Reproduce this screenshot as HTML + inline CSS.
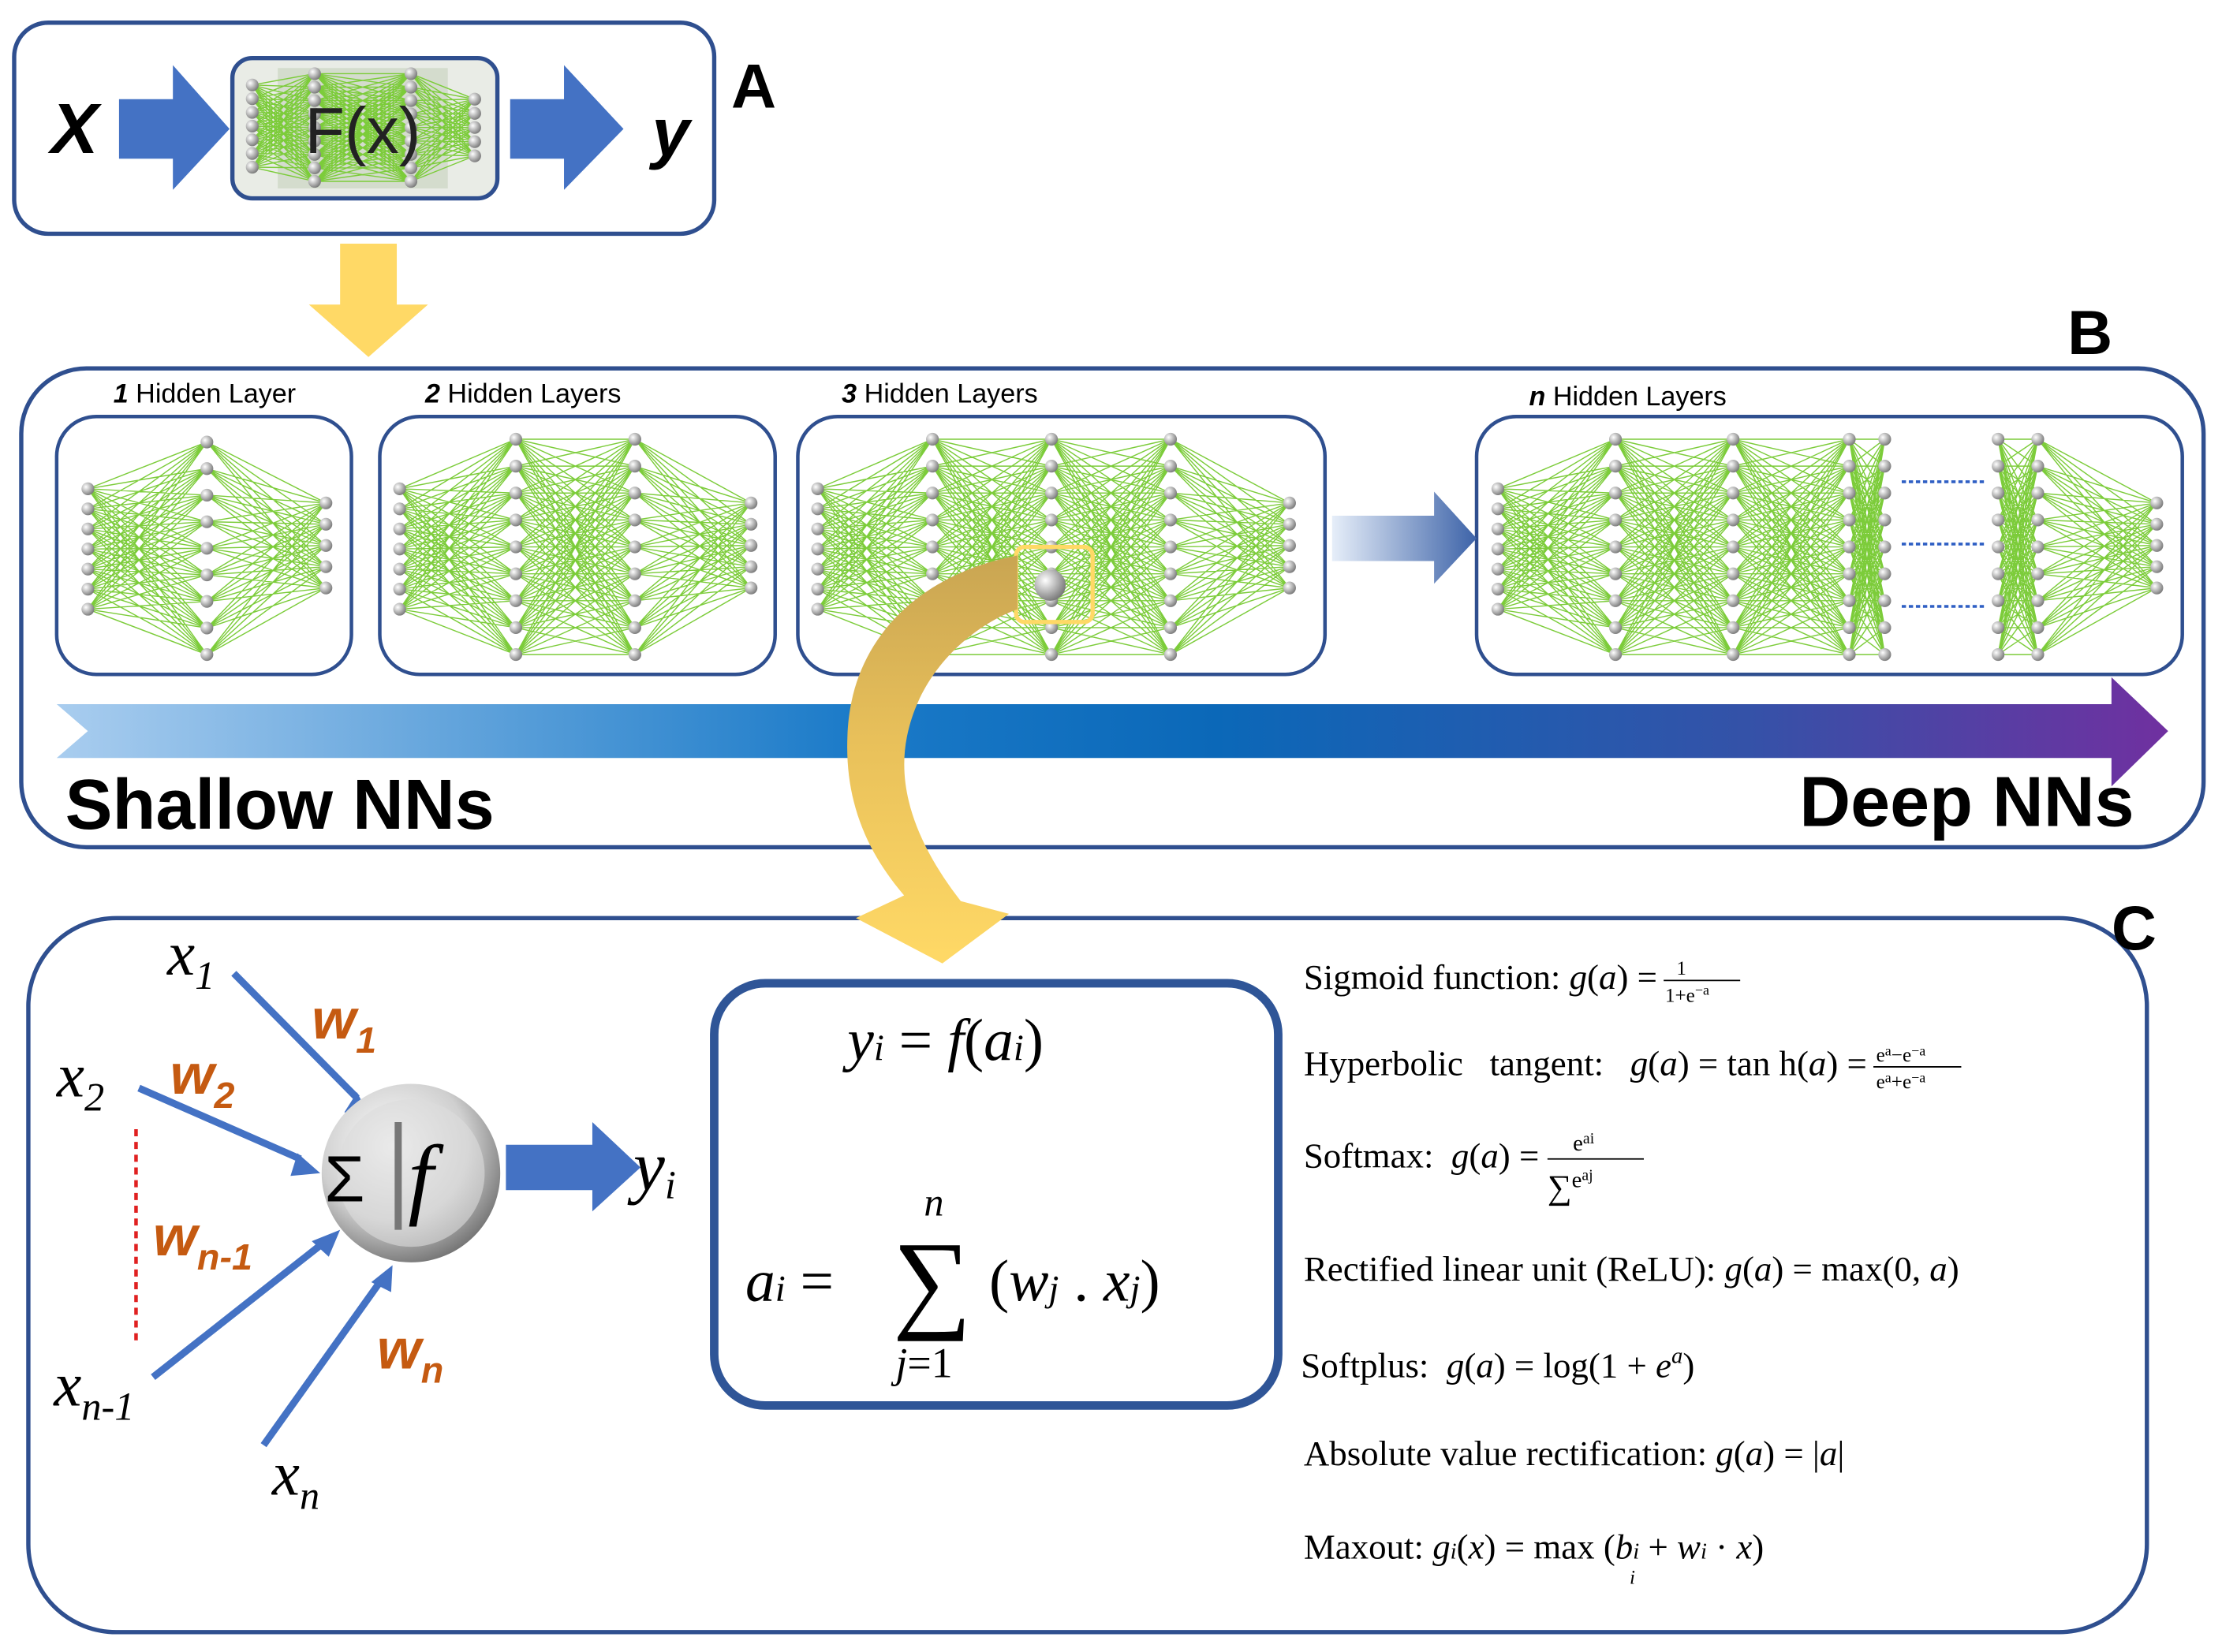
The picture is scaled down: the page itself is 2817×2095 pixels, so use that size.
<!DOCTYPE html>
<html><head><meta charset="utf-8"><style>
html,body{margin:0;padding:0;background:#fff;}
svg{display:block;}
.serif{font-family:"Liberation Serif",serif;}
.sans{font-family:"Liberation Sans",sans-serif;}
</style></head><body>
<svg id="s" width="2817" height="2095" viewBox="0 0 1568 1166" preserveAspectRatio="none" xmlns="http://www.w3.org/2000/svg">
<defs>
<linearGradient id="bar" x1="0" x2="1" y1="0" y2="0">
<stop offset="0" stop-color="#a9cdef"/><stop offset="0.38" stop-color="#1a7ac8"/><stop offset="0.55" stop-color="#0b68b8"/><stop offset="0.8" stop-color="#3452a8"/><stop offset="1" stop-color="#7030a0"/></linearGradient>
<linearGradient id="mid" x1="0" x2="1"><stop offset="0" stop-color="#e6eef9"/><stop offset="1" stop-color="#3d63a8"/></linearGradient>
<radialGradient id="ball" cx="0.4" cy="0.35" r="0.7"><stop offset="0" stop-color="#ffffff"/><stop offset="0.6" stop-color="#cfcfcf"/><stop offset="1" stop-color="#6e6e6e"/></radialGradient>
<radialGradient id="node" cx="0.35" cy="0.35" r="0.7"><stop offset="0" stop-color="#fff"/><stop offset="1" stop-color="#777"/></radialGradient>
<linearGradient id="curve" x1="0" y1="0" x2="0" y2="1"><stop offset="0" stop-color="#c9a552"/><stop offset="0.45" stop-color="#e8c05a"/><stop offset="1" stop-color="#ffd966"/></linearGradient>
</defs>

<!-- A -->
<rect x="10" y="16" width="494" height="149" rx="24" fill="#fff" stroke="#2f4f8f" stroke-width="3"/>
<text x="36" y="108" class="sans" font-size="50" font-weight="bold" font-style="italic">X</text>
<polygon points="84,70 122,70 122,46 162,91 122,134 122,112 84,112" fill="#4472c4"/>
<rect x="164" y="41" width="187" height="99" rx="14" fill="#e9ece6" stroke="#2f4f8f" stroke-width="3"/>
<rect x="196" y="48" width="120" height="85" fill="#d4dccd"/>
<g id="fxnet"></g>
<text x="256" y="108" class="sans" font-size="46" text-anchor="middle" fill="#222">F(x)</text>
<polygon points="360,70 398,70 398,46 440,91 398,134 398,112 360,112" fill="#4472c4"/>
<text x="460" y="110" class="sans" font-size="48" font-weight="bold" font-style="italic">y</text>
<text x="516" y="76" class="sans" font-size="44" font-weight="bold">A</text>

<!-- yellow arrow -->
<polygon points="240,172 280,172 280,215 302,215 260,252 218,215 240,215" fill="#ffd966"/>

<!-- B -->
<rect x="15" y="260" width="1540" height="338" rx="46" fill="#fff" stroke="#2f4f8f" stroke-width="3"/>
<text x="1459" y="250" class="sans" font-size="44" font-weight="bold">B</text>
<text x="80" y="284" class="sans" font-size="19"><tspan font-weight="bold" font-style="italic">1</tspan> Hidden Layer</text>
<text x="300" y="284" class="sans" font-size="19"><tspan font-weight="bold" font-style="italic">2</tspan> Hidden Layers</text>
<text x="594" y="284" class="sans" font-size="19"><tspan font-weight="bold" font-style="italic">3</tspan> Hidden Layers</text>
<text x="1079" y="286" class="sans" font-size="19"><tspan font-weight="bold" font-style="italic">n</tspan> Hidden Layers</text>
<rect x="40" y="294" width="208" height="182" rx="28" fill="#fff" stroke="#2f4f8f" stroke-width="2.5"/>
<rect x="268" y="294" width="279" height="182" rx="28" fill="#fff" stroke="#2f4f8f" stroke-width="2.5"/>
<rect x="563" y="294" width="372" height="182" rx="28" fill="#fff" stroke="#2f4f8f" stroke-width="2.5"/>
<rect x="1042" y="294" width="498" height="182" rx="28" fill="#fff" stroke="#2f4f8f" stroke-width="2.5"/>
<g id="nets"></g>
<line x1="1342" y1="340" x2="1402" y2="340" stroke="#2f5fc4" stroke-width="2" stroke-dasharray="3,2"/>
<line x1="1342" y1="384" x2="1402" y2="384" stroke="#2f5fc4" stroke-width="2" stroke-dasharray="3,2"/>
<line x1="1342" y1="428" x2="1402" y2="428" stroke="#2f5fc4" stroke-width="2" stroke-dasharray="3,2"/>
<polygon points="940,364 1012,364 1012,347 1042,380 1012,412 1012,396 940,396" fill="url(#mid)"/>
<rect x="717" y="386" width="54" height="53" rx="6" fill="none" stroke="#ffd966" stroke-width="3"/>
<circle cx="741" cy="413" r="11" fill="url(#node)"/>

<polygon points="40,497 1490,497 1490,478 1530,516 1490,555 1490,535 40,535 62,516" fill="url(#bar)"/>
<text x="46" y="585" class="sans" font-size="50" font-weight="bold">Shallow NNs</text>
<text x="1506" y="583" class="sans" font-size="50" font-weight="bold" text-anchor="end">Deep NNs</text>

<!-- C -->
<rect x="20" y="648" width="1495" height="504" rx="62" fill="#fff" stroke="#2f4f8f" stroke-width="3"/>
<text x="1490" y="670" class="sans" font-size="44" font-weight="bold">C</text>

<!-- curved arrow -->
<path d="M718,392 C650,405 600,450 598,520 C596,570 615,605 638,632 L604,648 L665,680 L712,645 L678,636 C650,600 632,560 640,520 C650,470 690,440 718,430 Z" fill="url(#curve)"/>

<!-- neuron -->
<g stroke="#4472c4" stroke-width="5" fill="#4472c4">
<line x1="165" y1="687" x2="252" y2="775"/>
<line x1="98" y1="768" x2="212" y2="818"/>
<line x1="108" y1="972" x2="226" y2="879"/>
<line x1="186" y1="1020" x2="268" y2="905"/>
</g>
<polygon points="262,790 243,785 252,771" fill="#4472c4"/>
<polygon points="226,828 205,830 210,814" fill="#4472c4"/>
<polygon points="240,868 232,887 220,876" fill="#4472c4"/>
<polygon points="277,893 276,912 262,905" fill="#4472c4"/>
<line x1="96" y1="797" x2="96" y2="950" stroke="#e02020" stroke-width="2.5" stroke-dasharray="5,4"/>
<circle cx="290" cy="828" r="63" fill="url(#ball)"/>
<circle cx="290" cy="828" r="52" fill="#dcdcdc" opacity="0.6"/>
<line x1="281" y1="792" x2="281" y2="868" stroke="#777" stroke-width="5"/>
<text x="229" y="848" class="sans" font-size="46">Σ</text>
<text x="288" y="852" class="serif" font-size="64" font-style="italic">f</text>
<polygon points="357,808 418,808 418,792 452,824 418,855 418,840 357,840" fill="#4472c4"/>
<text x="447" y="840" class="serif" font-size="50" font-style="italic">y<tspan font-size="28" dy="6">i</tspan></text>
<g class="serif" font-style="italic" font-size="44">
<text x="118" y="688">x<tspan font-size="28" dy="10">1</tspan></text>
<text x="40" y="774">x<tspan font-size="28" dy="10">2</tspan></text>
<text x="38" y="992">x<tspan font-size="28" dy="10">n-1</tspan></text>
<text x="192" y="1055">x<tspan font-size="28" dy="10">n</tspan></text>
</g>
<g class="sans" font-style="italic" font-weight="bold" fill="#c55a11" font-size="40">
<text x="220" y="733">w<tspan font-size="26" dy="10">1</tspan></text>
<text x="120" y="772">w<tspan font-size="26" dy="10">2</tspan></text>
<text x="108" y="886">w<tspan font-size="26" dy="10">n-1</tspan></text>
<text x="266" y="966">w<tspan font-size="26" dy="10">n</tspan></text>
</g>

<!-- formula box -->
<rect x="504" y="694" width="398" height="298" rx="36" fill="#fff" stroke="#2f5597" stroke-width="6"/>
<g class="serif" font-size="42">
<text x="598" y="748"><tspan font-style="italic">y</tspan><tspan font-style="italic" font-size="26">i</tspan> = <tspan font-style="italic">f</tspan>(<tspan font-style="italic">a</tspan><tspan font-style="italic" font-size="26">i</tspan>)</text>
<text x="652" y="858" font-size="28" font-style="italic">n</text>
<text x="526" y="918"><tspan font-style="italic">a</tspan><tspan font-style="italic" font-size="26">i</tspan> =</text>
<text x="630" y="930" font-size="78">∑</text>
<text x="698" y="918">(<tspan font-style="italic">w</tspan><tspan font-style="italic" font-size="26">j</tspan> . <tspan font-style="italic">x</tspan><tspan font-style="italic" font-size="26">j</tspan>)</text>
<text x="632" y="972" font-size="30"><tspan font-style="italic">j</tspan>=1</text>
</g>

<!-- formulas -->
<g class="serif" font-size="25">
<text x="920" y="698">Sigmoid function: <tspan font-style="italic">g</tspan>(<tspan font-style="italic">a</tspan>) = </text>
<text x="1183" y="688" font-size="14">1</text><line x1="1174" y1="692" x2="1228" y2="692" stroke="#000" stroke-width="1"/><text x="1175" y="707" font-size="14">1+e<tspan dy="-5" font-size="10">−a</tspan></text>
<text x="920" y="759">Hyperbolic &#160; tangent: &#160; <tspan font-style="italic">g</tspan>(<tspan font-style="italic">a</tspan>) = tan h(<tspan font-style="italic">a</tspan>) = </text>
<text x="1324" y="749" font-size="14">e<tspan font-size="10" dy="-4">a</tspan><tspan dy="4">−e</tspan><tspan font-size="10" dy="-4">−a</tspan></text><line x1="1322" y1="753" x2="1384" y2="753" stroke="#000" stroke-width="1"/><text x="1324" y="768" font-size="14">e<tspan font-size="10" dy="-4">a</tspan><tspan dy="4">+e</tspan><tspan font-size="10" dy="-4">−a</tspan></text>
<text x="920" y="824">Softmax: &#160;<tspan font-style="italic">g</tspan>(<tspan font-style="italic">a</tspan>) = </text>
<text x="1110" y="812" font-size="16">e<tspan font-size="11" dy="-5">ai</tspan></text><line x1="1092" y1="818" x2="1160" y2="818" stroke="#000" stroke-width="1"/><text x="1092" y="846" font-size="24">∑<tspan font-size="16" dy="-8">e</tspan><tspan font-size="11" dy="-5">aj</tspan></text>
<text x="920" y="904">Rectified linear unit (ReLU): <tspan font-style="italic">g</tspan>(<tspan font-style="italic">a</tspan>) = max(0, <tspan font-style="italic">a</tspan>)</text>
<text x="918" y="972">Softplus: &#160;<tspan font-style="italic">g</tspan>(<tspan font-style="italic">a</tspan>) = log(1 + <tspan font-style="italic">e</tspan><tspan font-style="italic" font-size="16" dy="-10">a</tspan><tspan dy="10">)</tspan></text>
<text x="920" y="1034">Absolute value rectification: <tspan font-style="italic">g</tspan>(<tspan font-style="italic">a</tspan>) = |<tspan font-style="italic">a</tspan>|</text>
<text x="920" y="1100">Maxout: <tspan font-style="italic">g</tspan><tspan font-size="16" font-style="italic">i</tspan>(<tspan font-style="italic">x</tspan>) = max (<tspan font-style="italic">b</tspan><tspan font-size="16" font-style="italic">i</tspan> + <tspan font-style="italic">w</tspan><tspan font-size="16" font-style="italic">i</tspan> · <tspan font-style="italic">x</tspan>)</text>
<text x="1150" y="1118" font-size="14" font-style="italic">i</text>
</g>
</svg>
<script>
(function(){
var NS="http://www.w3.org/2000/svg";
function net(g,cols,y0,y1){
  var layers=cols.map(function(c){var n=c[1],pts=[];var top=c[2]!==undefined?c[2]:y0,bot=c[3]!==undefined?c[3]:y1;for(var i=0;i<n;i++){pts.push([c[0],top+(bot-top)*i/(n-1)]);}return pts;});
  var d="";
  for(var l=0;l<layers.length-1;l++){layers[l].forEach(function(a){layers[l+1].forEach(function(b){d+="M"+a[0]+","+a[1]+"L"+b[0]+","+b[1];});});}
  var p=document.createElementNS(NS,"path");p.setAttribute("d",d);p.setAttribute("stroke","#7ccc3a");p.setAttribute("stroke-width","0.8");p.setAttribute("fill","none");g.appendChild(p);
  layers.forEach(function(L){L.forEach(function(q){var c=document.createElementNS(NS,"circle");c.setAttribute("cx",q[0]);c.setAttribute("cy",q[1]);c.setAttribute("r","4.5");c.setAttribute("fill","url(#node)");g.appendChild(c);});});
}
var g=document.getElementById("nets");
net(g,[[62,7,345,430],[146,9,312,462],[230,5,355,415]]);
net(g,[[282,7,345,430],[364,9,310,462],[448,9,310,462],[530,5,355,415]]);
net(g,[[577,7,345,430],[658,9,310,462],[742,9,310,462],[826,9,310,462],[910,5,355,415]]);
net(g,[[1057,7,345,430],[1140,9,310,462],[1223,9,310,462],[1305,9,310,462],[1330,9,310,462]]);
net(g,[[1410,9,310,462],[1438,9,310,462],[1522,5,355,415]]);
net(document.getElementById("fxnet"),[[178,7,60,118],[222,9,52,128],[290,9,52,128],[335,5,70,110]]);
})();
</script>
</body></html>
